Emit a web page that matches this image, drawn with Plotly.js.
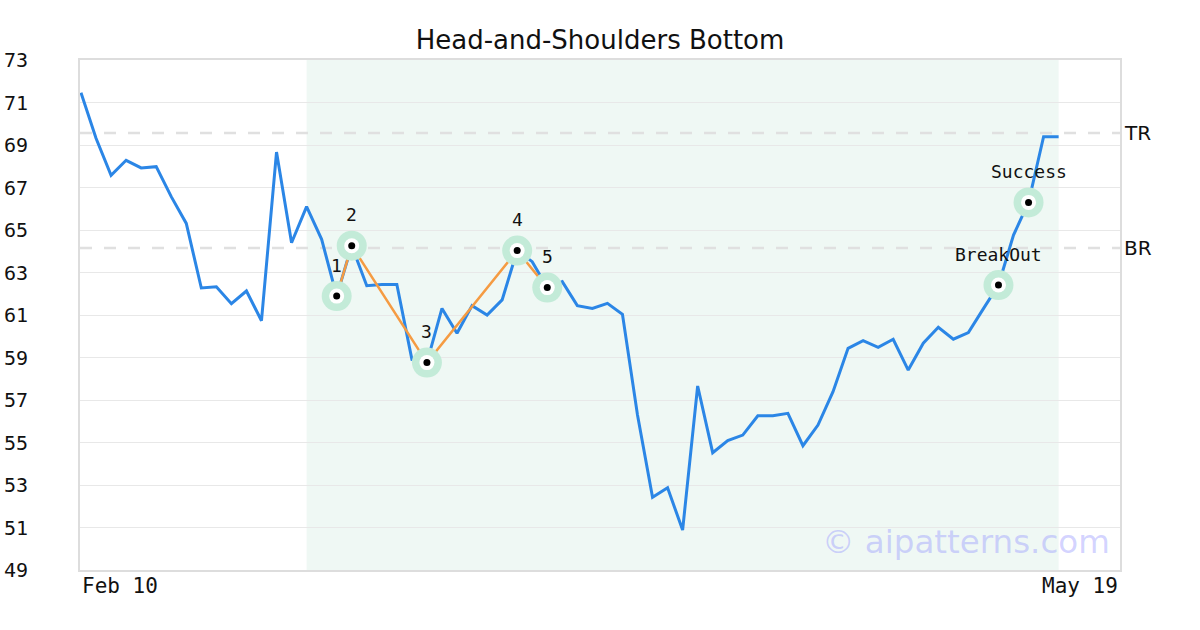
<!DOCTYPE html>
<html>
<head>
<meta charset="utf-8">
<script src="https://cdn.plot.ly/plotly-3.0.1.min.js"></script>
<style>html,body{margin:0;padding:0;background:#fff}#chart{width:1200px;height:630px}</style>
</head>
<body>
<div id="chart"></div>
<script>
// Daily closing prices (trading-day index 0..65, Feb 10 .. May 19)
const prices = [71.46, 69.32, 67.57, 68.28, 67.92, 67.98, 66.57, 65.31, 62.27, 62.33,
  61.53, 62.13, 60.73, 68.67, 64.40, 66.10, 64.56, 61.89, 64.26, 62.38,
  62.44, 62.44, 58.91, 58.76, 61.31, 60.14, 61.44, 61.00, 61.71, 64.03,
  63.51, 62.29, 62.57, 61.44, 61.31, 61.55, 61.03, 56.29, 52.42, 52.87,
  50.88, 57.66, 54.52, 55.09, 55.35, 56.26, 56.26, 56.37, 54.85, 55.82,
  57.39, 59.43, 59.79, 59.48, 59.86, 58.41, 59.67, 60.42, 59.86, 60.17,
  61.30, 62.41, 64.76, 66.30, 69.39, 69.39];
const xIndex = prices.map((_, i) => i);

// Pattern pivot points
const pivotIdx = [17, 18, 23, 29, 31];
const pivotLabels = ['1', '2', '3', '4', '5'];
// Signal points
const signalIdx = [61, 63];
const signalLabels = ['BreakOut', 'Success'];

// Resistance levels
const levelNames = ['TR', 'BR'];
const levelValues = [69.56, 64.15];

// Pattern window (index range)
const patternStart = 15;
const patternEnd = 65;

// Axis ticks
const yTicks = [49, 51, 53, 55, 57, 59, 61, 63, 65, 67, 69, 71, 73];
const xTickLabels = ['Feb 10', 'May 19'];

const title = 'Head-and-Shoulders Bottom';
const watermark = '© aipatterns.com';

const mono = 'DejaVu Sans Mono, monospace';
const sans = 'DejaVu Sans, sans-serif';

const markIdx = pivotIdx.concat(signalIdx);
const markX = markIdx.map(i => xIndex[i]);
const markY = markIdx.map(i => prices[i]);

const traces = [
  {x: xIndex, y: prices, type: 'scatter', mode: 'lines',
   line: {color: '#2b86e6', width: 3}, hoverinfo: 'skip'},
  {x: pivotIdx.map(i => xIndex[i]), y: pivotIdx.map(i => prices[i]), type: 'scatter', mode: 'lines',
   line: {color: '#f59b42', width: 2.5}, hoverinfo: 'skip'},
  {x: markX, y: markY, type: 'scatter', mode: 'markers',
   marker: {size: 30, color: '#c3ebd8'}, hoverinfo: 'skip'},
  {x: markX, y: markY, type: 'scatter', mode: 'markers',
   marker: {size: 15, color: '#ffffff'}, hoverinfo: 'skip'},
  {x: markX, y: markY, type: 'scatter', mode: 'markers',
   marker: {size: 7, color: '#000000'}, hoverinfo: 'skip'}
];

const shapes = [
  {type: 'rect', xref: 'x', yref: 'paper', x0: patternStart, x1: patternEnd, y0: 0, y1: 1,
   fillcolor: '#eff8f4', line: {width: 0}, layer: 'below'}
];
levelValues.forEach(v => shapes.push({
  type: 'line', xref: 'paper', yref: 'y', x0: 0, x1: 1, y0: v, y1: v,
  line: {color: '#e0e0e0', width: 2.5, dash: '12px,12px'}, layer: 'below'
}));

const annotations = [];
pivotIdx.forEach((i, k) => annotations.push({
  x: xIndex[i], y: prices[i], xref: 'x', yref: 'y', text: pivotLabels[k], showarrow: false,
  yshift: 31, font: {family: mono, size: 18, color: '#111'}
}));
signalIdx.forEach((i, k) => annotations.push({
  x: xIndex[i], y: prices[i], xref: 'x', yref: 'y', text: signalLabels[k], showarrow: false,
  yshift: 31, font: {family: mono, size: 18, color: '#111'}
}));
levelNames.forEach((n, k) => annotations.push({
  x: 1, y: levelValues[k], xref: 'paper', yref: 'y', text: n, showarrow: false,
  xanchor: 'left', xshift: 2, font: {family: sans, size: 20, color: '#111'}
}));
annotations.push({x: 0, y: 0, xref: 'paper', yref: 'paper', text: xTickLabels[0], showarrow: false,
  xanchor: 'left', yanchor: 'top', yshift: -2, font: {family: mono, size: 21, color: '#111'}});
annotations.push({x: 1, y: 0, xref: 'paper', yref: 'paper', text: xTickLabels[1], showarrow: false,
  xanchor: 'right', yanchor: 'top', yshift: -2, font: {family: mono, size: 21, color: '#111'}});
annotations.push({x: 1, y: 0, xref: 'paper', yref: 'paper', text: watermark, showarrow: false,
  xanchor: 'right', yanchor: 'middle', xshift: -8, yshift: 28,
  font: {family: sans, size: 32.5, color: 'rgba(150,150,255,0.42)'}});

const layout = {
  width: 1200, height: 630,
  margin: {l: 80, r: 80, t: 60, b: 60},
  paper_bgcolor: '#ffffff', plot_bgcolor: '#ffffff',
  showlegend: false,
  title: {text: title, x: 0.5, xanchor: 'center', xref: 'paper', y: 1 - 40 / 630, yanchor: 'middle', yref: 'container',
          font: {family: sans, size: 26, color: '#111'}},
  xaxis: {range: [-0.066, 69.08], showgrid: false, zeroline: false, showticklabels: false, ticks: '',
          showline: true, mirror: true, linecolor: '#dddddd', linewidth: 2, fixedrange: true},
  yaxis: {range: [49, 73], tickvals: yTicks, ticktext: yTicks.map(String), showgrid: true, gridcolor: '#e8e8e8', gridwidth: 1,
          zeroline: false, ticks: '', ticklabelstandoff: 46,
          tickfont: {family: mono, size: 20, color: '#111'},
          showline: true, mirror: true, linecolor: '#dddddd', linewidth: 2, fixedrange: true},
  shapes: shapes,
  annotations: annotations
};

Plotly.newPlot('chart', traces, layout, {staticPlot: true, displayModeBar: false});
</script>
</body>
</html>
